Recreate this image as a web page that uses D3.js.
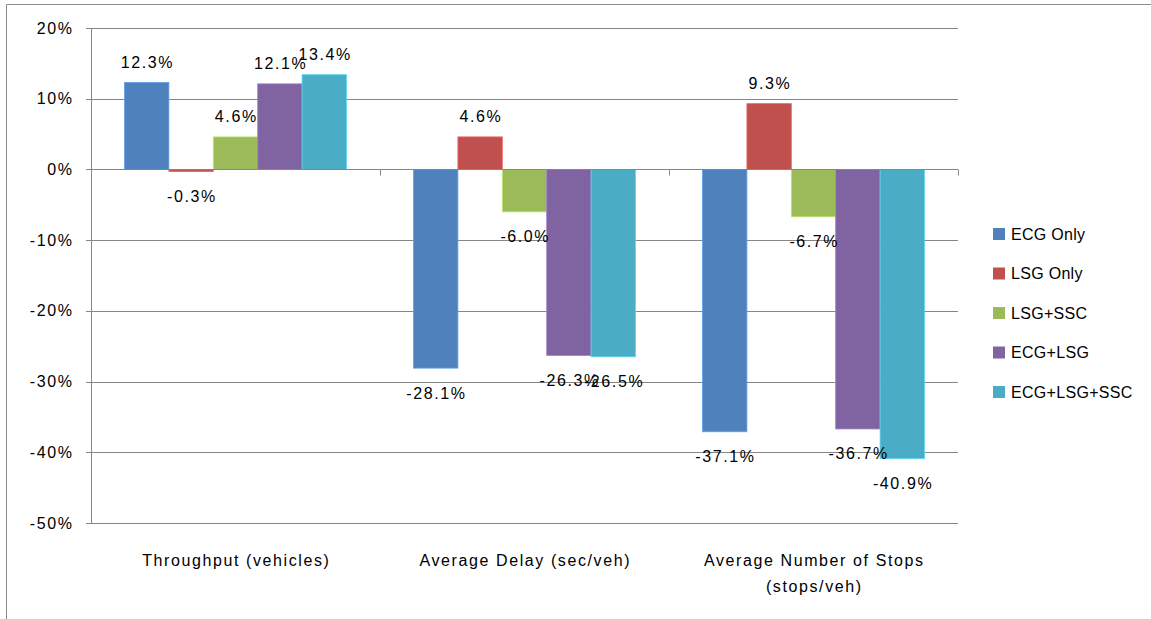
<!DOCTYPE html>
<html><head><meta charset="utf-8">
<script src="https://cdn.jsdelivr.net/npm/d3@7"></script>
<style>body{margin:0;background:#fff}svg{display:block}text{font-family:"Liberation Sans",Arial,sans-serif;fill:#000}</style>
</head><body>
<script>
const categories = [["Throughput (vehicles)"], ["Average Delay (sec/veh)"], ["Average Number of Stops", "(stops/veh)"]];
const seriesNames = ["ECG Only", "LSG Only", "LSG+SSC", "ECG+LSG", "ECG+LSG+SSC"];
const seriesColors = ["#4F81BD", "#C0504D", "#9BBB59", "#8064A2", "#4BACC6"];
const ecgOnly = [12.3, -28.1, -37.1];
const lsgOnly = [-0.3, 4.6, 9.3];
const lsgSsc = [4.6, -6.0, -6.7];
const ecgLsg = [12.1, -26.3, -36.7];
const ecgLsgSsc = [13.4, -26.5, -40.9];
const yTicks = [20, 10, 0, -10, -20, -30, -40, -50];
const series = [ecgOnly, lsgOnly, lsgSsc, ecgLsg, ecgLsgSsc];

const W = 1151, H = 619;
const svg = d3.select("body").append("svg").attr("width", W).attr("height", H);
svg.append("path").attr("d", "M6.5,619 L6.5,4.5 L1151,4.5").attr("fill", "none").attr("stroke", "#8c8c8c").attr("stroke-width", 1);

const pLeft = 91, pRight = 958, pTop = 28, pBottom = 523;
const y = d3.scaleLinear().domain([-50, 20]).range([pBottom, pTop]);
const x0 = d3.scaleBand().domain(d3.range(categories.length)).range([pLeft, pRight]).paddingInner(0).paddingOuter(0);
const x1 = d3.scaleBand().domain(d3.range(seriesNames.length)).range([0, x0.bandwidth()]).paddingOuter(0.755).paddingInner(0);

svg.append("g").selectAll("line").data(yTicks).join("line")
  .attr("x1", pLeft - 5).attr("x2", pRight)
  .attr("y1", d => Math.round(y(d)) + 0.5).attr("y2", d => Math.round(y(d)) + 0.5)
  .attr("stroke", "#868686").attr("stroke-width", 1);
svg.append("line").attr("x1", pLeft + 0.5).attr("x2", pLeft + 0.5).attr("y1", pTop).attr("y2", pBottom + 1).attr("stroke", "#868686");
svg.append("g").selectAll("text").data(yTicks).join("text")
  .attr("x", 73.5).attr("y", d => y(d)).attr("text-anchor", "end").attr("dominant-baseline", "central")
  .attr("font-size", 16).attr("letter-spacing", 1.6).text(d => d + "%");

const g = svg.append("g");
series.forEach((vals, si) => {
  g.selectAll(null).data(vals).join("rect")
    .attr("x", (d, ci) => x0(ci) + x1(si))
    .attr("width", x1.bandwidth())
    .attr("y", d => y(Math.max(0, d)))
    .attr("height", d => Math.abs(y(d) - y(0)))
    .attr("fill", seriesColors[si])
    .attr("stroke", d3.color(seriesColors[si]).brighter(0.6)).attr("stroke-width", 0.8);
});

const y0 = Math.round(y(0)) + 0.5;
svg.append("line").attr("x1", pLeft).attr("x2", pRight).attr("y1", y0).attr("y2", y0).attr("stroke", "#868686");
svg.append("g").selectAll("line").data(d3.range(categories.length + 1)).join("line")
  .attr("x1", i => Math.round(pLeft + i * x0.bandwidth()) + 0.5).attr("x2", i => Math.round(pLeft + i * x0.bandwidth()) + 0.5)
  .attr("y1", y0).attr("y2", y0 + 6).attr("stroke", "#868686");

series.forEach((vals, si) => {
  g.selectAll(null).data(vals).join("text")
    .attr("x", (d, ci) => x0(ci) + x1(si) + x1.bandwidth() / 2 + 0.8)
    .attr("y", d => d >= 0 ? y(d) - 20 : y(d) + 25)
    .attr("text-anchor", "middle").attr("dominant-baseline", "central")
    .attr("font-size", 16).attr("letter-spacing", 1.6).text(d => d.toFixed(1) + "%");
});

categories.forEach((lines, ci) => {
  lines.forEach((t, li) => {
    svg.append("text").attr("x", x0(ci) + x0.bandwidth() / 2 + 0.8).attr("y", 560 + li * 26)
      .attr("text-anchor", "middle").attr("dominant-baseline", "central").attr("font-size", 16)
      .attr("letter-spacing", 1.6).text(t);
  });
});

const lg = svg.append("g");
seriesNames.forEach((n, i) => {
  const cy = 234 + i * 39.5;
  lg.append("rect").attr("x", 993).attr("y", cy - 6).attr("width", 12).attr("height", 12).attr("fill", seriesColors[i]);
  lg.append("text").attr("x", 1011).attr("y", cy).attr("dominant-baseline", "central").attr("font-size", 16)
    .attr("letter-spacing", 0.3).text(n);
});
</script>
</body></html>
